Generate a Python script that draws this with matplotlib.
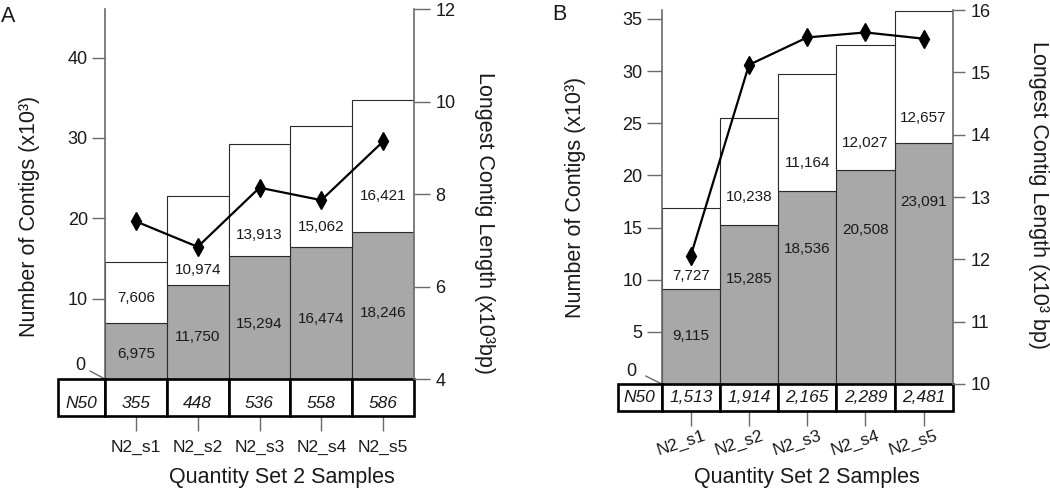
import matplotlib
matplotlib.use('Agg')
import matplotlib.pyplot as plt
from matplotlib.patches import Rectangle
from matplotlib import transforms

plt.rcParams['font.family'] = ['Liberation Sans', 'DejaVu Sans']

# ---------------- data ----------------
samples = ['N2_s1', 'N2_s2', 'N2_s3', 'N2_s4', 'N2_s5']

a_lower = [6.975, 11.750, 15.294, 16.474, 18.246]     # x10^3 contigs (grey)
a_upper = [7.606, 10.974, 13.913, 15.062, 16.421]     # x10^3 contigs (white)
a_longest = [7.41, 6.86, 8.14, 7.87, 9.14]            # x10^3 bp
a_n50 = ['355', '448', '536', '558', '586']

b_lower = [9.115, 15.285, 18.536, 20.508, 23.091]
b_upper = [7.727, 10.238, 11.164, 12.027, 12.657]
b_longest = [12.06, 15.12, 15.56, 15.64, 15.54]
b_n50 = ['1,513', '1,914', '2,165', '2,289', '2,481']

# label placement (fraction within segment) - layout only
a_frac_up = [0.41, 0.163, 0.187, 0.162, 0.273]
a_frac_lo = [0.45, 0.45, 0.45, 0.45, 0.45]
b_frac_up = [0.16, 0.26, 0.235, 0.214, 0.188]
b_frac_lo = [0.51, 0.66, 0.70, 0.72, 0.757]

W, H = 1050, 491
fig = plt.figure(figsize=(W / 100, H / 100), dpi=100)


def px(x, y):
    return x / W, 1 - y / H


GREY = '#a8a8a8'
SPINE = '#6a6a6a'
TXT = '#1a1a1a'
NARROW = ['Liberation Sans Narrow', 'Liberation Sans', 'DejaVu Sans']


def panel(box, lower, upper, longest, n50, frac_up, frac_lo,
          lylim, lyticks, rylim, ryticks, table_px, n50_w, rotate,
          ltick_len, rtick_len, zero_lbl, zero_line, tbl_txt_dy):
    x0, y0, x1, y1 = box
    ax = fig.add_axes([x0 / W, 1 - y1 / H, (x1 - x0) / W, (y1 - y0) / H])
    hpx = y1 - y0
    xs = list(range(len(samples)))
    ax.bar(xs, lower, width=1.0, color=GREY, edgecolor='#2a2a2a', linewidth=0.8, zorder=2)
    ax.bar(xs, upper, bottom=lower, width=1.0, color='white', edgecolor='#2a2a2a',
           linewidth=0.8, zorder=2)
    for i in xs:
        ax.text(i, lower[i] * frac_lo[i], f"{round(lower[i] * 1000):,}", ha='center',
                va='center', fontsize=11, family=NARROW, color=TXT, zorder=3)
        ax.text(i, lower[i] + upper[i] * frac_up[i], f"{round(upper[i] * 1000):,}",
                ha='center', va='center', fontsize=11, family=NARROW, color=TXT, zorder=3)
    ax.set_xlim(-0.5, len(samples) - 0.5)
    ax.set_ylim(*lylim)
    ax.set_yticks(lyticks)
    ax.tick_params(axis='y', length=ltick_len, width=1, color=SPINE, labelsize=13,
                   labelcolor=TXT, pad=3)
    for s in ['top', 'right']:
        ax.spines[s].set_visible(False)
    ax.spines['left'].set_color(SPINE)
    ax.spines['left'].set_linewidth(1.2)
    ax.spines['bottom'].set_position(('outward', table_px * 0.72))
    ax.spines['bottom'].set_visible(False)
    ax.set_xticks(xs)
    ax.tick_params(axis='x', length=11, width=1, color=SPINE, labelsize=12.5,
                   labelcolor=TXT, pad=6)
    tr = transforms.blended_transform_factory(ax.transData, ax.transAxes)
    if rotate:
        ax.set_xticklabels([])
        for i in xs:
            ax.text(i - 0.17, -59.5 / hpx, samples[i], transform=tr,
                    rotation=18, rotation_mode='anchor', ha='center', va='center',
                    fontsize=12.5, color=TXT)
    else:
        ax.set_xticklabels(samples)

    # zero tick (slanted)
    ax.annotate('', xy=(0, 0), xycoords='axes fraction', xytext=zero_line,
                textcoords='offset pixels',
                arrowprops=dict(arrowstyle='-', color=SPINE, lw=1, shrinkA=0, shrinkB=0))
    ax.annotate('0', xy=(0, 0), xycoords='axes fraction', xytext=zero_lbl,
                textcoords='offset pixels', ha='center', va='center', fontsize=13,
                color=TXT)

    # N50 table
    th = table_px / hpx
    cells = [(-0.5 - n50_w, n50_w, 'N50')] + [(i - 0.5, 1.0, n50[i]) for i in xs]
    for (cx, cw, lab) in cells:
        ax.add_patch(Rectangle((cx, -th), cw, th, transform=tr, clip_on=False,
                               facecolor='white', edgecolor='black', linewidth=1.9,
                               zorder=4))
        ax.text(cx + cw / 2, -th / 2 - tbl_txt_dy / hpx, lab, transform=tr, ha='center',
                va='center', fontsize=12.5, style='italic', color=TXT, zorder=5)

    ax2 = ax.twinx()
    ax2.plot(xs, longest, color='black', lw=1.6, marker='d', ms=9, zorder=6)
    ax2.set_ylim(*rylim)
    ax2.set_yticks(ryticks)
    ax2.tick_params(axis='y', length=rtick_len, width=1, color=SPINE, labelsize=13,
                    labelcolor=TXT, pad=4)
    for s in ['top', 'left', 'bottom']:
        ax2.spines[s].set_visible(False)
    ax2.spines['right'].set_color(SPINE)
    ax2.spines['right'].set_linewidth(1.2)
    return ax, ax2


panel((105, 9.3, 414, 379), a_lower, a_upper, a_longest, a_n50, a_frac_up, a_frac_lo,
      (0, 46), [10, 20, 30, 40], (4, 12), [4, 6, 8, 10, 12], 37, 0.76, False,
      9.4, 11.5, (-25, 14), (-15, 8), 6.5)
panel((661.7, 10, 952.7, 384), b_lower, b_upper, b_longest, b_n50, b_frac_up, b_frac_lo,
      (0, 35.86), [5, 10, 15, 20, 25, 30, 35], (10, 16), [10, 11, 12, 13, 14, 15, 16],
      27, 0.756, True, 10.8, 8.6, (-30, 13), (-16, 8), 0)

# axis labels & panel letters
fig.text(*px(30, 216.5), 'Number of Contigs (x10³)', rotation=90, ha='center', va='center',
         fontsize=15.5, color=TXT)
fig.text(*px(485, 223.5), 'Longest Contig Length (x10³bp)', rotation=-90, ha='center',
         va='center', fontsize=15.5, color=TXT)
fig.text(*px(281.7, 478), 'Quantity Set 2 Samples', ha='center', va='center',
         fontsize=15.5, color=TXT)
fig.text(*px(576, 197.5), 'Number of Contigs (x10³)', rotation=90, ha='center', va='center',
         fontsize=15.5, color=TXT)
fig.text(*px(1039, 195), 'Longest Contig Length (x10³ bp)', rotation=-90, ha='center',
         va='center', fontsize=15.5, color=TXT)
fig.text(*px(807, 478), 'Quantity Set 2 Samples', ha='center', va='center',
         fontsize=15.5, color=TXT)
fig.text(*px(0.5, 21.5), 'A', ha='left', va='baseline', fontsize=15.5, color=TXT)
fig.text(*px(552, 20.5), 'B', ha='left', va='baseline', fontsize=15.5, color=TXT)

fig.savefig('out.png', dpi=100)
